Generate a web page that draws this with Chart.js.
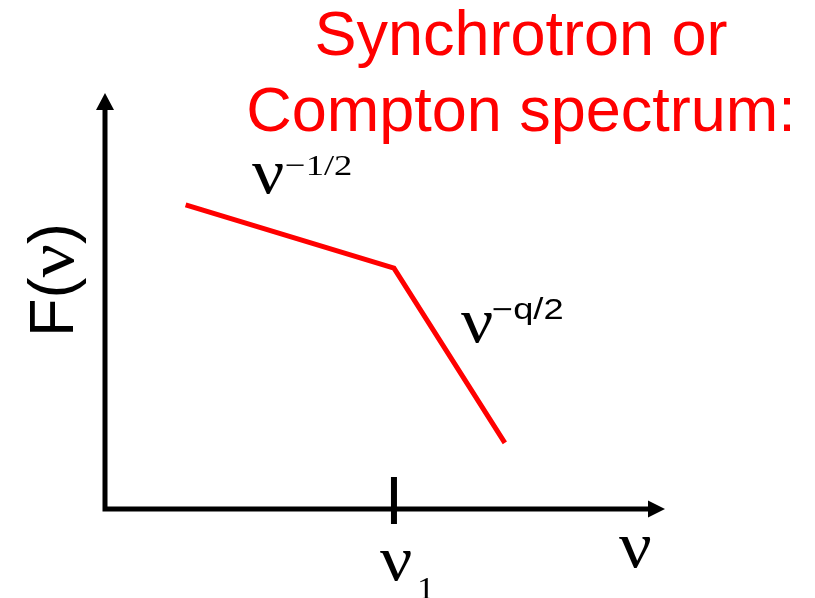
<!DOCTYPE html>
<html>
<head>
<meta charset="utf-8">
<script src="https://cdn.jsdelivr.net/npm/chart.js@4/dist/chart.umd.min.js"></script>
<style>
  html, body { margin: 0; padding: 0; background: #fff; }
  #wrap { width: 815px; height: 598px; }
</style>
</head>
<body>
<div id="wrap"><canvas id="spectrum" width="815" height="598"></canvas></div>
<script>
// broken power law, arbitrary log units
const nu = [1.44, 5.16, 7.14];
const flux = [7.31, 5.79, 1.59];
const nuBreak = 5.16;
const titleLines = ['Synchrotron or', 'Compton spectrum:'];

const RED = '#ff0000';
const SANS = '"Liberation Sans", Arial, sans-serif';
const SERIF = '"Liberation Serif", "Times New Roman", serif';

// text stretched horizontally
function wideText(ctx, str, x, y, font, sx) {
  ctx.save();
  ctx.translate(x, y);
  ctx.scale(sx, 1);
  ctx.font = font;
  ctx.fillText(str, 0, 0);
  const w = ctx.measureText(str).width * sx;
  ctx.restore();
  return w;
}

// axes with arrow heads, break tick and all labels
const sketchPlugin = {
  id: 'sketch',
  beforeDatasetsDraw(chart) {
    const ctx = chart.ctx;
    const a = chart.chartArea;
    const xs = chart.scales.x;
    ctx.save();
    ctx.strokeStyle = '#000';
    ctx.fillStyle = '#000';
    ctx.lineWidth = 5;
    ctx.lineCap = 'butt';
    ctx.beginPath();
    ctx.moveTo(a.left, a.top + 15);
    ctx.lineTo(a.left, a.bottom + 2.5);
    ctx.moveTo(a.left - 2.5, a.bottom);
    ctx.lineTo(a.right - 15, a.bottom);
    ctx.stroke();
    // arrow heads
    ctx.beginPath();
    ctx.moveTo(a.left, a.top);
    ctx.lineTo(a.left - 9, a.top + 17);
    ctx.lineTo(a.left + 9, a.top + 17);
    ctx.closePath();
    ctx.moveTo(a.right, a.bottom);
    ctx.lineTo(a.right - 17, a.bottom - 8.5);
    ctx.lineTo(a.right - 17, a.bottom + 8.5);
    ctx.closePath();
    ctx.fill();
    // break frequency tick
    const bx = xs.getPixelForValue(nuBreak);
    ctx.lineWidth = 6;
    ctx.beginPath();
    ctx.moveTo(bx, a.bottom - 32);
    ctx.lineTo(bx, a.bottom + 15);
    ctx.stroke();
    ctx.restore();
  },
  afterDraw(chart) {
    const ctx = chart.ctx;
    const xs = chart.scales.x;
    const bx = xs.getPixelForValue(nuBreak);
    ctx.save();
    ctx.textBaseline = 'alphabetic';

    // title
    ctx.fillStyle = RED;
    ctx.font = '63px ' + SANS;
    ctx.textAlign = 'center';
    ctx.fillText(titleLines[0], 521, 55);
    ctx.fillText(titleLines[1], 521, 131);

    ctx.fillStyle = '#000';
    ctx.textAlign = 'left';

    // low frequency slope
    wideText(ctx, 'ν', 252, 193, '64px ' + SERIF, 1.12);
    wideText(ctx, '−1/2', 285, 175, '30px ' + SERIF, 1.22);

    // high frequency slope
    wideText(ctx, 'ν', 461, 342, '64px ' + SERIF, 1.12);
    wideText(ctx, '−q/2', 492, 319, '29px ' + SANS, 1.25);

    // x axis label and break label
    wideText(ctx, 'ν', 619, 567, '66px ' + SERIF, 1.1);
    wideText(ctx, 'ν', bx - 14, 580, '64px ' + SERIF, 1.12);
    wideText(ctx, '1', 417, 599, '32px ' + SERIF, 1.1);

    // y axis label F(ν)
    ctx.save();
    ctx.translate(73, 337);
    ctx.rotate(-Math.PI / 2);
    let x = 0;
    x += wideText(ctx, 'F(', x, 0, '63px ' + SANS, 1);
    x += wideText(ctx, 'ν', x, 0, '66px ' + SERIF, 1.12);
    wideText(ctx, ')', x, 0, '63px ' + SANS, 1);
    ctx.restore();

    ctx.restore();
  }
};

new Chart(document.getElementById('spectrum'), {
  type: 'line',
  data: {
    datasets: [{
      data: nu.map((v, i) => ({ x: v, y: flux[i] })),
      borderColor: RED,
      borderWidth: 5,
      borderJoinStyle: 'miter',
      borderCapStyle: 'butt',
      pointRadius: 0,
      tension: 0,
      fill: false
    }]
  },
  options: {
    responsive: false,
    animation: false,
    layout: { padding: { left: 105, right: 150, top: 93, bottom: 89 } },
    plugins: { legend: { display: false }, tooltip: { enabled: false } },
    scales: {
      x: { type: 'linear', min: 0, max: 10, display: false },
      y: { type: 'linear', min: 0, max: 10, display: false }
    }
  },
  plugins: [sketchPlugin]
});
</script>
</body>
</html>
